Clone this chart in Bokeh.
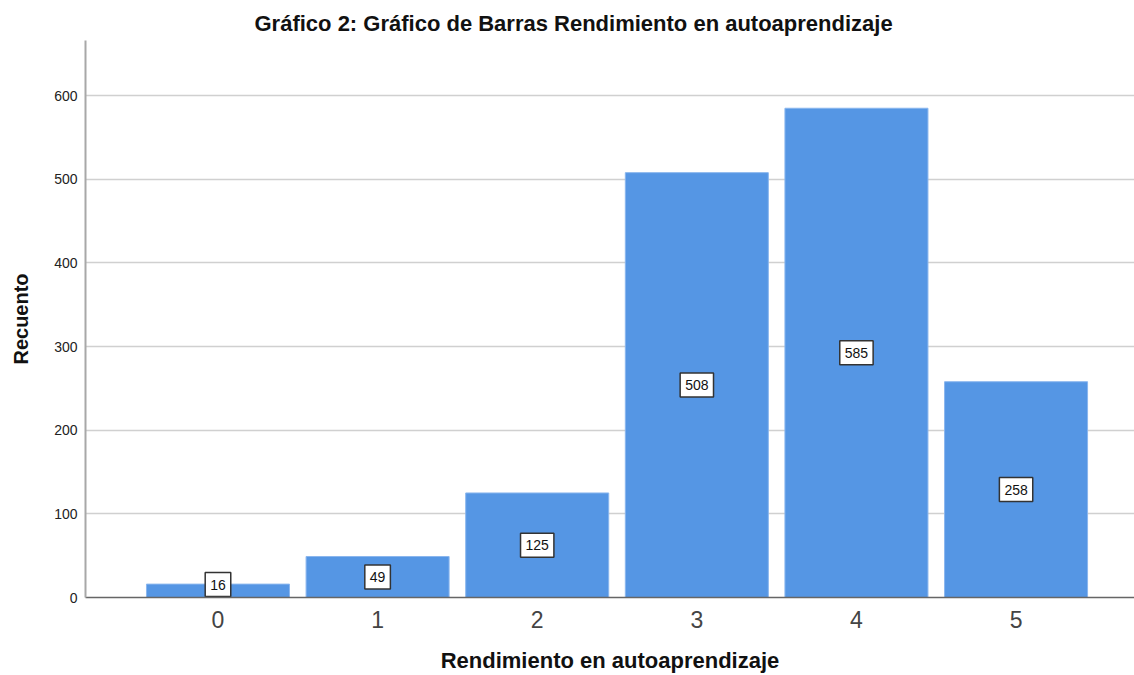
from bokeh.plotting import figure
from bokeh.models import Range1d, FixedTicker, ColumnDataSource, Title
from bokeh.core.properties import value
from bokeh.embed import file_html
from bokeh.resources import INLINE

categories = [0, 1, 2, 3, 4, 5]
counts = [16, 49, 125, 508, 585, 258]
y_ticks = [0, 100, 200, 300, 400, 500, 600]

title_text = "Gráfico 2: Gráfico de Barras Rendimiento en autoaprendizaje"
x_title = "Rendimiento en autoaprendizaje"
y_title = "Recuento"

FONT = "Liberation Sans"

label_y = [max(v / 2.0, 15.5) for v in counts]
src = ColumnDataSource(dict(x=categories, top=counts, ly=label_y,
                            txt=[str(v) for v in counts]))

p = figure(width=1134, height=675, output_backend="svg", toolbar_location=None,
           x_range=Range1d(-0.830, 5.742), y_range=Range1d(0, 666),
           min_border_left=85, min_border_top=40, min_border_bottom=78,
           min_border_right=0)
p.outline_line_color = None
p.background_fill_color = "white"
p.border_fill_color = "white"

p.vbar(x="x", top="top", width=0.896, source=src, fill_color="#5596e4",
       line_color="#8ab6ee", line_width=1)

p.text(x="x", y="ly", text="txt", source=src, text_align="center",
       text_baseline="middle", text_font=value(FONT), text_font_size="14px",
       text_color="#111111", background_fill_color="white",
       border_line_color="#333333", border_line_width=1.5,
       padding=dict(x=5, y=7))

# axes
p.xaxis.ticker = FixedTicker(ticks=categories)
p.xaxis.major_tick_line_color = None
p.xaxis.major_tick_out = 0
p.xaxis.major_tick_in = 0
p.xaxis.minor_tick_line_color = None
p.xaxis.axis_line_color = "#666666"
p.xaxis.axis_line_width = 1.5
p.xaxis.major_label_text_font = FONT
p.xaxis.major_label_text_font_size = "23px"
p.xaxis.major_label_text_color = "#444444"
p.xaxis.major_label_standoff = 13
p.xaxis.axis_label = x_title
p.xaxis.axis_label_text_font = FONT
p.xaxis.axis_label_text_font_size = "22px"
p.xaxis.axis_label_text_font_style = "bold"
p.xaxis.axis_label_text_color = "#111111"
p.xaxis.axis_label_standoff = 17

p.yaxis.ticker = FixedTicker(ticks=y_ticks)
p.yaxis.major_tick_line_color = None
p.yaxis.major_tick_out = 0
p.yaxis.major_tick_in = 0
p.yaxis.minor_tick_line_color = None
p.yaxis.axis_line_color = "#a8a8a8"
p.yaxis.axis_line_width = 2
p.yaxis.major_label_text_font = FONT
p.yaxis.major_label_text_font_size = "14px"
p.yaxis.major_label_text_color = "#222222"
p.yaxis.major_label_standoff = 8
p.yaxis.axis_label = y_title
p.yaxis.axis_label_text_font = FONT
p.yaxis.axis_label_text_font_size = "20px"
p.yaxis.axis_label_text_font_style = "bold"
p.yaxis.axis_label_text_color = "#111111"
p.yaxis.axis_label_standoff = 19

p.xgrid.grid_line_color = None
p.ygrid.ticker = FixedTicker(ticks=y_ticks[1:])
p.ygrid.grid_line_color = "#d0d0d0"
p.ygrid.grid_line_width = 1.5

p.add_layout(Title(text=title_text, align="left", offset=169,
                   text_font=FONT, text_font_size="22px", text_font_style="bold",
                   text_color="#111111"), "above")

open("out.html", "w").write(file_html(p, INLINE))
